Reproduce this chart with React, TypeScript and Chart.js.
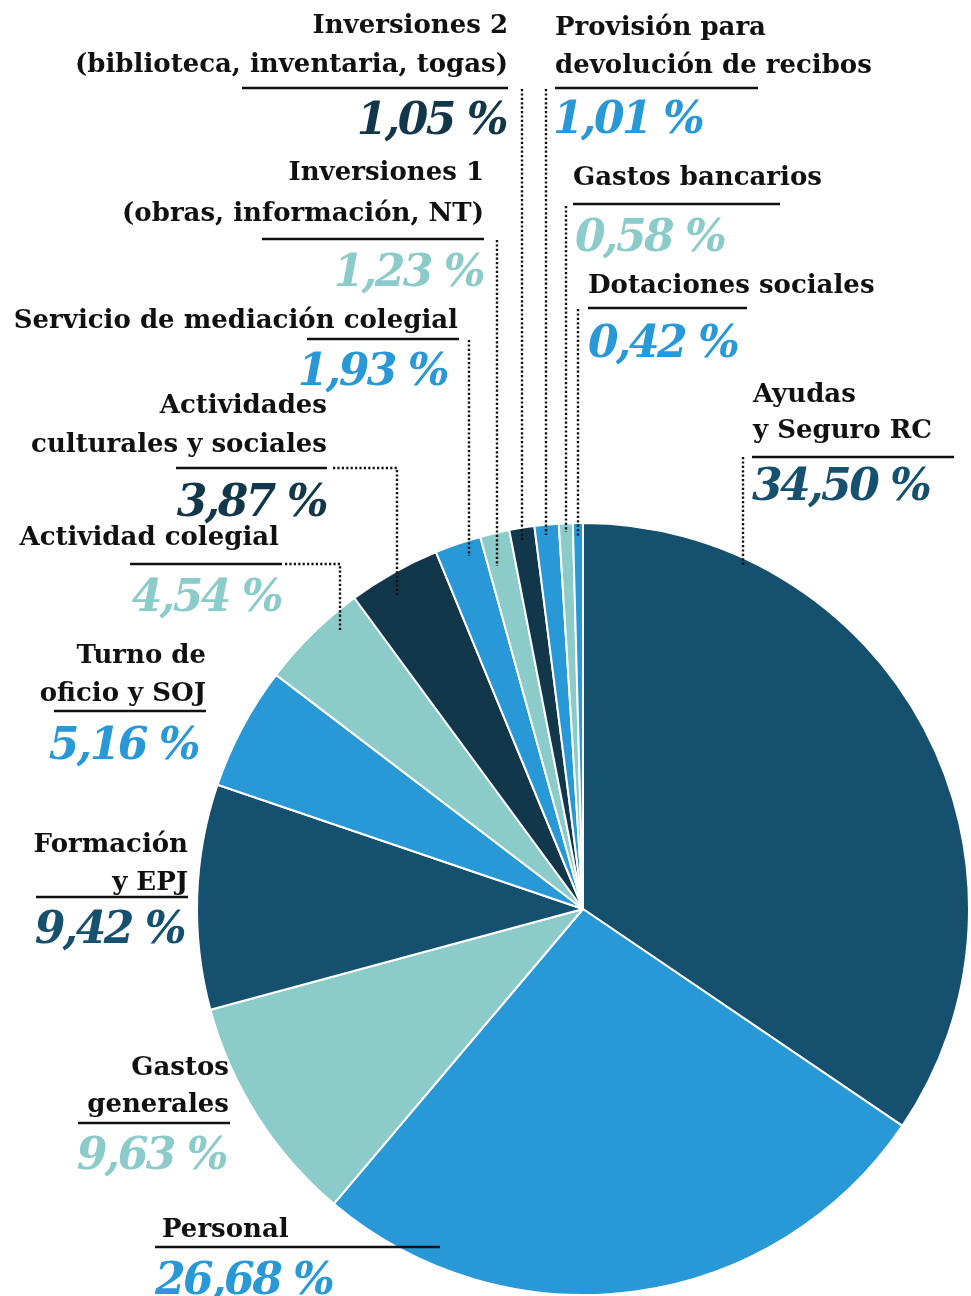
import React, { useEffect, useRef } from "react";
import { Chart, registerables } from "chart.js";

Chart.register(...registerables);

// ---- Data ----
const CATEGORIES: string[] = [
  "Ayudas y Seguro RC",
  "Personal",
  "Gastos generales",
  "Formación y EPJ",
  "Turno de oficio y SOJ",
  "Actividad colegial",
  "Actividades culturales y sociales",
  "Servicio de mediación colegial",
  "Inversiones 1 (obras, información, NT)",
  "Inversiones 2 (biblioteca, inventaria, togas)",
  "Provisión para devolución de recibos",
  "Gastos bancarios",
  "Dotaciones sociales",
];

const VALUES: number[] = [34.5, 26.68, 9.63, 9.42, 5.16, 4.54, 3.87, 1.93, 1.23, 1.05, 1.01, 0.58, 0.42];

const LABEL_LINES: string[][] = [
  ["Ayudas", "y Seguro RC"],
  ["Personal"],
  ["Gastos", "generales"],
  ["Formación", "y EPJ"],
  ["Turno de", "oficio y SOJ"],
  ["Actividad colegial"],
  ["Actividades", "culturales y sociales"],
  ["Servicio de mediación colegial"],
  ["Inversiones 1", "(obras, información, NT)"],
  ["Inversiones 2", "(biblioteca, inventaria, togas)"],
  ["Provisión para", "devolución de recibos"],
  ["Gastos bancarios"],
  ["Dotaciones sociales"],
];

// ---- Styles ----
const DARK = "#16506f";
const NAVY = "#12374b";
const BLUE = "#2898d6";
const TEAL = "#8bcbc9";
const SLICE_COLORS = [DARK, BLUE, TEAL, DARK, BLUE, TEAL, NAVY, BLUE, TEAL, NAVY, BLUE, TEAL, BLUE];

// ---- Label layout (annotation placement) ----
type Layout = {
  align: "left" | "right";
  x: number;
  base: number[];
  ul: [number, number, number];
  px: number;
  py: number;
  leader?: number[][];
};
const LAYOUT: Layout[] = [
  { align: "left", x: 753, base: [402, 438], ul: [752, 954, 457], px: 752, py: 500, leader: [[743, 457], [743, 566]] },
  { align: "left", x: 162, base: [1237], ul: [155, 440, 1247], px: 155, py: 1294 },
  { align: "right", x: 229, base: [1075, 1112], ul: [78, 230, 1123], px: 226, py: 1169 },
  { align: "right", x: 188, base: [852, 890], ul: [36, 188, 897], px: 184, py: 943 },
  { align: "right", x: 206, base: [663, 701], ul: [54, 206, 711], px: 198, py: 759 },
  { align: "right", x: 279, base: [545], ul: [130, 282, 564], px: 281, py: 611, leader: [[285, 564], [340, 564], [340, 632]] },
  { align: "right", x: 327, base: [413, 452], ul: [176, 327, 468], px: 326, py: 516, leader: [[333, 468], [397, 468], [397, 595]] },
  { align: "right", x: 458, base: [328], ul: [307, 459, 339], px: 447, py: 385, leader: [[469, 340], [469, 556]] },
  { align: "right", x: 484, base: [180, 221], ul: [262, 484, 239], px: 483, py: 286, leader: [[497, 240], [497, 566]] },
  { align: "right", x: 508, base: [33, 72], ul: [242, 508, 88], px: 506, py: 134, leader: [[522, 89], [522, 540]] },
  { align: "left", x: 555, base: [35, 73], ul: [555, 758, 88], px: 553, py: 133, leader: [[546, 89], [546, 535]] },
  { align: "left", x: 573, base: [185], ul: [573, 780, 204], px: 575, py: 251, leader: [[566, 206], [566, 532]] },
  { align: "left", x: 588, base: [293], ul: [588, 747, 308], px: 588, py: 357, leader: [[578, 309], [578, 536]] },
];

const LABEL_FONT = "bold 26px 'DejaVu Serif', serif";
const PCT_FONT = "bold italic 44px 'DejaVu Serif', serif";

const fmtPct = (v: number) => v.toFixed(2).replace(".", ",") + " %";

const labelPlugin = {
  id: "customLabels",
  afterDraw(chart: any) {
    const ctx = chart.ctx as CanvasRenderingContext2D;
    ctx.save();
    LAYOUT.forEach((l, i) => {
      // leader
      if (l.leader) {
        ctx.beginPath();
        ctx.setLineDash([2.2, 2.2]);
        ctx.lineWidth = 2.4;
        ctx.strokeStyle = "#111";
        l.leader.forEach((p, k) => (k === 0 ? ctx.moveTo(p[0], p[1]) : ctx.lineTo(p[0], p[1])));
        ctx.stroke();
        ctx.setLineDash([]);
      }
      // label lines
      ctx.font = LABEL_FONT;
      (ctx as any).letterSpacing = "0px";
      ctx.fillStyle = "#111";
      ctx.textAlign = l.align;
      ctx.textBaseline = "alphabetic";
      LABEL_LINES[i].forEach((t, k) => ctx.fillText(t, l.x, l.base[k]));
      // underline
      ctx.beginPath();
      ctx.lineWidth = 2.5;
      ctx.strokeStyle = "#111";
      ctx.moveTo(l.ul[0], l.ul[2]);
      ctx.lineTo(l.ul[1], l.ul[2]);
      ctx.stroke();
      // percentage
      ctx.font = PCT_FONT;
      (ctx as any).letterSpacing = "-2.5px";
      ctx.fillStyle = SLICE_COLORS[i];
      ctx.textAlign = l.align;
      ctx.fillText(fmtPct(VALUES[i]), l.px, l.py);
    });
    ctx.restore();
  },
};

export default function App() {
  const ref = useRef<HTMLCanvasElement | null>(null);
  useEffect(() => {
    if (!ref.current) return;
    const chart = new Chart(ref.current, {
      type: "pie",
      data: {
        labels: CATEGORIES,
        datasets: [
          {
            data: VALUES,
            backgroundColor: SLICE_COLORS,
            borderColor: "#ffffff",
            borderWidth: 2,
          },
        ],
      },
      options: {
        responsive: false,
        animation: false,
        layout: { padding: { left: 195, right: 0, top: 522, bottom: -2 } },
        plugins: { legend: { display: false }, tooltip: { enabled: false } },
      },
      plugins: [labelPlugin],
    });
    return () => chart.destroy();
  }, []);
  return (
    <div style={{ position: "absolute", left: 0, top: 0, width: 971, height: 1296, background: "#fff" }}>
      <canvas ref={ref} width={971} height={1296} style={{ display: "block" }} />
    </div>
  );
}
